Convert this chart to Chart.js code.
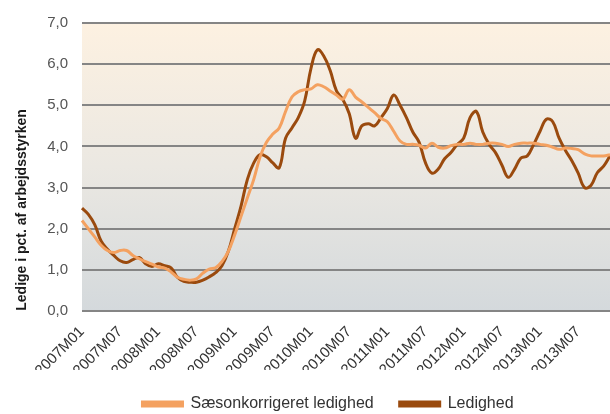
<!DOCTYPE html>
<html>
<head>
<meta charset="utf-8">
<script src="https://cdn.jsdelivr.net/npm/chart.js@4"></script>
<style>
  html, body { margin: 0; padding: 0; background: #fff; }
  #wrap { width: 610px; height: 414px; }
</style>
</head>
<body>
<div id="wrap"><canvas id="myChart"></canvas></div>
<script>
// months 2007M01 .. 2013M12
const years = [2007, 2008, 2009, 2010, 2011, 2012, 2013];
const months = ['01', '02', '03', '04', '05', '06', '07', '08', '09', '10', '11', '12'];
const labels = [];
years.forEach(y => months.forEach(m => labels.push(y + 'M' + m)));

const shownTicks = ['2007M01', '2007M07', '2008M01', '2008M07', '2009M01', '2009M07', '2010M01',
    '2010M07', '2011M01', '2011M07', '2012M01', '2012M07', '2013M01', '2013M07'];

const yTicks = [0, 1, 2, 3, 4, 5, 6, 7];

// Sæsonkorrigeret ledighed
const saesonkorrigeret = [
    2.2, 2.0, 1.8, 1.6, 1.47, 1.42, 1.47, 1.47, 1.35, 1.27, 1.2, 1.14,
    1.07, 1.04, 0.95, 0.82, 0.77, 0.75, 0.78, 0.92, 1.02, 1.05, 1.2, 1.45,
    1.85, 2.3, 2.75, 3.2, 3.75, 4.1, 4.3, 4.45, 4.85, 5.2, 5.33, 5.38,
    5.4, 5.5, 5.45, 5.35, 5.25, 5.15, 5.38, 5.2, 5.08, 4.95, 4.82, 4.68,
    4.6, 4.37, 4.13, 4.05, 4.05, 4.03, 3.96, 4.08, 3.98, 3.96, 4.02, 4.05,
    4.05, 4.08, 4.05, 4.05, 4.08, 4.08, 4.05, 4.0, 4.05, 4.08, 4.08, 4.08,
    4.05, 4.03, 3.98, 3.93, 3.96, 3.95, 3.92, 3.82, 3.77, 3.77, 3.77, 3.8
];

// Ledighed
const ledighed = [
    2.5, 2.35, 2.1, 1.7, 1.5, 1.35, 1.22, 1.18, 1.25, 1.3, 1.15, 1.08,
    1.15, 1.1, 1.05, 0.82, 0.72, 0.7, 0.7, 0.75, 0.83, 0.93, 1.1, 1.45,
    2.0, 2.55, 3.2, 3.6, 3.8, 3.75, 3.6, 3.48, 4.2, 4.45, 4.7, 5.1,
    5.9, 6.35, 6.2, 5.85, 5.35, 5.14, 4.8, 4.2, 4.5, 4.55, 4.5, 4.7,
    4.92, 5.25, 5.0, 4.7, 4.35, 4.1, 3.6, 3.35, 3.45, 3.7, 3.85, 4.05,
    4.2, 4.7, 4.85, 4.35, 4.05, 3.85, 3.55, 3.25, 3.45, 3.72, 3.77, 4.05,
    4.37, 4.66, 4.6, 4.2, 3.9, 3.65, 3.35, 3.0, 3.05, 3.36, 3.52, 3.77
];

const FONT = 'Arial, "Liberation Sans", sans-serif';

// plot background gradient + rotated y axis title
const bgPlugin = {
    id: 'plotBg',
    beforeDraw(chart) {
        const {ctx, chartArea: a} = chart;
        const g = ctx.createLinearGradient(0, a.top, 0, a.bottom);
        g.addColorStop(0, '#fdf1e1');
        g.addColorStop(0.5, '#ebe8e2');
        g.addColorStop(1, '#d4d9dc');
        ctx.save();
        ctx.fillStyle = g;
        ctx.fillRect(a.left, a.top, a.right - a.left, a.bottom - a.top);
        ctx.restore();
    },
    afterDraw(chart) {
        const ctx = chart.ctx;
        ctx.save();
        ctx.translate(22, 210);
        ctx.rotate(-Math.PI / 2);
        ctx.font = 'bold 14px ' + FONT;
        ctx.fillStyle = '#1a1a1a';
        ctx.textAlign = 'center';
        ctx.textBaseline = 'middle';
        ctx.fillText('Ledige i pct. af arbejdsstyrken', 0, 0);
        ctx.restore();
    },
    afterLayout(chart) {
        // nudge the legend to the right, as in the original
        chart.legend.left += 23;
        chart.legend.right += 23;
    }
};

const ctx = document.getElementById('myChart');
const chart = new Chart(ctx, {
    type: 'line',
    data: {
        labels: labels,
        datasets: [{
            label: 'Sæsonkorrigeret ledighed',
            data: saesonkorrigeret,
            borderColor: '#f4a160',
            backgroundColor: '#f4a160',
            borderWidth: 3,
            pointRadius: 0,
            tension: 0.4
        }, {
            label: 'Ledighed',
            data: ledighed,
            borderColor: '#9a4a0e',
            backgroundColor: '#9a4a0e',
            borderWidth: 3,
            pointRadius: 0,
            tension: 0.4
        }]
    },
    options: {
        responsive: true,
        maintainAspectRatio: false,
        animation: false,
        layout: { padding: { top: 21, right: 0, left: 0, bottom: -8 } },
        scales: {
            x: {
                grid: { display: false },
                border: { display: false },
                ticks: {
                    autoSkip: false,
                    minRotation: 45,
                    maxRotation: 45,
                    padding: 4,
                    color: '#333',
                    font: { family: FONT, size: 15 },
                    callback: function(val, i) {
                        const l = labels[i];
                        return shownTicks.includes(l) ? l : '';
                    }
                },
                afterFit(scale) {
                    scale.height = 59;
                    scale.paddingRight = 0;
                }
            },
            y: {
                min: 0,
                max: 7,
                border: { display: false },
                grid: { color: '#858585', lineWidth: 2, drawTicks: false },
                ticks: {
                    stepSize: 1,
                    padding: 14,
                    color: '#555',
                    font: { family: FONT, size: 15 },
                    callback: v => yTicks.includes(v) ? v.toFixed(1).replace('.', ',') : ''
                },
                afterFit(scale) { scale.width = 82; }
            }
        },
        plugins: {
            legend: {
                position: 'bottom',
                labels: {
                    boxWidth: 40,
                    boxHeight: 4,
                    padding: 26,
                    color: '#333',
                    font: { family: FONT, size: 16 }
                }
            },
            tooltip: { enabled: false }
        }
    },
    plugins: [bgPlugin]
});
</script>
</body>
</html>
